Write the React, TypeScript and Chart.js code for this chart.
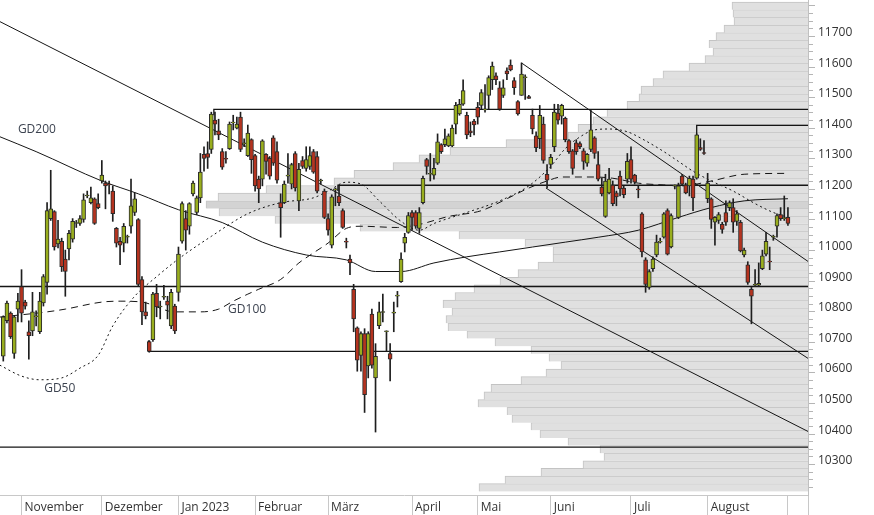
import React, { useEffect, useRef } from 'react';
import { Chart, registerables } from 'chart.js';

Chart.register(...registerables);

// ---------- Candles (one trading day per index) ----------
const opens = [
  10642, 10758, 10783, 10651, 10796, 10870, 10819, 10722, 10725, 10771,
  10722, 10816, 10883, 11092, 11115, 11009, 11018, 10960, 10993, 11025,
  11076, 11076, 11089, 11166, 11144, 11157, 11141, 11215, 11208, 11205,
  11182, 11060, 11018, 11012, 11031, 11067, 11112, 11089, 10893, 10787,
  10690, 10696, 10848, 10803, 10835, 10822, 10741, 10806, 10851, 11018,
  11092, 11067, 11173, 11112, 11160, 11302, 11305, 11318, 11414, 11379,
  11311, 11289, 11321, 11405, 11388, 11424, 11337, 11298, 11350, 11298,
  11221, 11221, 11302, 11289, 11356, 11311, 11144, 11144, 11231, 11205,
  11305, 11150, 11282, 11256, 11263, 11311, 11295, 11215, 11182, 11092,
  11005, 11186, 11166, 11118, 11018, 10960, 10861, 10735, 10645, 10716,
  10610, 10780, 10571, 10742, 10785, 10722, 10651, 10783, 10838, 10886,
  11012, 11047, 11112, 11112, 11060, 11144, 11285, 11237, 11234, 11273,
  11334, 11334, 11330, 11330, 11401, 11434, 11466, 11430, 11379, 11411,
  11456, 11462, 11447, 11495, 11546, 11559, 11520, 11495, 11575, 11594,
  11543, 11475, 11495, 11553, 11491, 11430, 11363, 11353, 11401, 11237,
  11269, 11327, 11437, 11427, 11420, 11347, 11314, 11340, 11337, 11314,
  11273, 11318, 11356, 11269, 11195, 11099, 11176, 11202, 11176, 11231,
  11192, 11221, 11285, 11234, 11189, 11108, 10957, 10867, 10928, 10973,
  11015, 11031, 11118, 10999, 11198, 11096, 11231, 11202, 11199, 11221,
  11224, 11324, 11308, 11157, 11157, 11080, 11086, 11073, 11112, 11128,
  11128, 11083, 11080, 10973, 10941, 10861, 10874, 10874, 10928, 10976,
  10953, 11031, 11067, 11105, 11092, 11096,
];
const highs = [
  10774, 10822, 10787, 10774, 10848, 10925, 10825, 10758, 10851, 10790,
  10851, 10909, 11144, 11250, 11118, 11086, 11028, 10989, 11054, 11092,
  11086, 11102, 11173, 11182, 11195, 11160, 11173, 11282, 11215, 11215,
  11199, 11063, 11031, 11076, 11038, 11221, 11176, 11092, 10902, 10819,
  10693, 10851, 10877, 10822, 10874, 10838, 10861, 10812, 10999, 11147,
  11118, 11144, 11215, 11166, 11305, 11327, 11343, 11440, 11440, 11417,
  11321, 11311, 11408, 11430, 11424, 11440, 11353, 11398, 11353, 11302,
  11231, 11350, 11305, 11295, 11363, 11343, 11173, 11215, 11305, 11273,
  11311, 11273, 11295, 11327, 11327, 11318, 11311, 11221, 11189, 11108,
  11170, 11192, 11199, 11124, 11028, 10973, 10877, 10738, 10722, 10732,
  10722, 10796, 10683, 10819, 10845, 10725, 10683, 10819, 10854, 10980,
  11044, 11112, 11118, 11118, 11128, 11231, 11289, 11305, 11289, 11369,
  11337, 11385, 11369, 11398, 11472, 11482, 11546, 11440, 11408, 11417,
  11472, 11514, 11530, 11559, 11604, 11569, 11540, 11546, 11585, 11611,
  11553, 11478, 11601, 11562, 11495, 11450, 11376, 11462, 11424, 11269,
  11302, 11466, 11466, 11466, 11424, 11350, 11318, 11350, 11343, 11321,
  11305, 11446, 11360, 11311, 11224, 11237, 11256, 11215, 11182, 11247,
  11199, 11305, 11327, 11237, 11199, 11112, 10964, 10925, 10967, 11038,
  11028, 11112, 11124, 11108, 11202, 11208, 11237, 11208, 11231, 11231,
  11369, 11353, 11347, 11240, 11160, 11099, 11112, 11080, 11150, 11150,
  11157, 11118, 11086, 10996, 10951, 10867, 10925, 10947, 10989, 11047,
  10999, 11038, 11108, 11128, 11166, 11128,
];
const lows = [
  10626, 10751, 10700, 10635, 10754, 10754, 10796, 10632, 10709, 10741,
  10716, 10806, 10845, 11086, 10989, 10996, 10919, 10838, 10957, 11015,
  11063, 11070, 11080, 11160, 11140, 11073, 11124, 11208, 11124, 11173,
  11083, 10999, 10941, 10983, 11012, 11044, 11102, 10870, 10745, 10764,
  10655, 10690, 10771, 10764, 10828, 10764, 10732, 10716, 10822, 11012,
  10989, 11041, 11166, 11105, 11144, 11247, 11256, 11305, 11366, 11350,
  11253, 11273, 11318, 11382, 11385, 11311, 11327, 11295, 11240, 11182,
  11144, 11199, 11237, 11221, 11266, 11208, 11031, 11141, 11208, 11189,
  11182, 11118, 11256, 11247, 11253, 11240, 11176, 11205, 11092, 11038,
  10996, 11134, 11134, 11060, 10996, 10909, 10722, 10593, 10593, 10458,
  10571, 10603, 10394, 10732, 10754, 10658, 10561, 10722, 10803, 10883,
  10983, 11044, 11054, 11060, 11044, 11140, 11237, 11215, 11221, 11269,
  11305, 11327, 11327, 11327, 11369, 11430, 11462, 11353, 11360, 11366,
  11401, 11450, 11440, 11450, 11514, 11530, 11446, 11488, 11546, 11575,
  11498, 11430, 11495, 11482, 11485, 11369, 11311, 11321, 11273, 11192,
  11256, 11311, 11401, 11401, 11343, 11305, 11237, 11302, 11321, 11253,
  11263, 11311, 11289, 11215, 11166, 11096, 11173, 11134, 11134, 11166,
  11160, 11208, 11208, 11205, 11160, 10967, 10851, 10861, 10919, 10967,
  11012, 11028, 10973, 10996, 11189, 11092, 11202, 11173, 11166, 11118,
  11221, 11315, 11302, 11144, 11060, 11005, 11076, 11044, 11070, 11118,
  11047, 11070, 10983, 10967, 10877, 10748, 10870, 10870, 10925, 10970,
  10925, 11021, 11031, 11086, 11086, 11070,
];
const closes = [
  10771, 10816, 10706, 10771, 10822, 10783, 10806, 10709, 10787, 10774,
  10822, 10902, 11118, 11124, 10999, 11025, 10935, 10919, 11044, 11083,
  11079, 11092, 11153, 11169, 11160, 11076, 11128, 11234, 11199, 11202,
  11108, 11012, 11005, 11067, 11034, 11134, 11157, 10877, 10787, 10774,
  10658, 10845, 10803, 10806, 10838, 10809, 10851, 10725, 10976, 11141,
  11054, 11141, 11208, 11160, 11244, 11289, 11292, 11434, 11401, 11366,
  11260, 11286, 11401, 11408, 11401, 11318, 11340, 11372, 11285, 11199,
  11189, 11346, 11279, 11231, 11273, 11218, 11128, 11205, 11234, 11269,
  11192, 11253, 11263, 11285, 11298, 11244, 11182, 11218, 11096, 11054,
  11163, 11189, 11144, 11063, 11015, 10947, 10764, 10629, 10716, 10516,
  10716, 10613, 10642, 10787, 10788, 10725, 10632, 10786, 10842, 10960,
  11031, 11102, 11096, 11067, 11112, 11224, 11263, 11240, 11256, 11343,
  11311, 11353, 11363, 11388, 11462, 11466, 11511, 11366, 11372, 11398,
  11424, 11504, 11450, 11553, 11591, 11546, 11450, 11520, 11565, 11578,
  11520, 11434, 11565, 11556, 11485, 11385, 11324, 11430, 11282, 11218,
  11292, 11440, 11414, 11462, 11350, 11311, 11256, 11311, 11327, 11279,
  11302, 11382, 11305, 11221, 11173, 11215, 11221, 11141, 11163, 11189,
  11170, 11279, 11221, 11211, 11186, 10983, 10877, 10919, 10960, 11015,
  11018, 11108, 10976, 11102, 11201, 11199, 11205, 11176, 11224, 11160,
  11366, 11318, 11305, 11208, 11089, 11096, 11105, 11057, 11080, 11144,
  11080, 11108, 10986, 10989, 10883, 10838, 10877, 10880, 10970, 11018,
  10951, 11034, 11102, 11092, 11095, 11076,
];

// ---------- X axis: first trading day of each month ----------
const monthStartIndex = [5, 27, 48, 69, 89, 112, 130, 150, 172, 193, 215];
const monthLabels = ['November', 'Dezember', 'Jan 2023', 'Februar', 'März', 'April', 'Mai', 'Juni', 'Juli', 'August', ''];
const X_MIN = -0.9;
const X_MAX = 220.5;

// ---------- Y axis ----------
const Y_MIN = 10201;
const Y_MAX = 11794;
const priceTickStep = 25;
const priceTickFirst = 10225;
const priceTickLast = 11775;

// ---------- Volume profile (25-point bins, relative volume) ----------
const profilePrice = [
  10212.5, 10237.5, 10262.5, 10287.5, 10312.5, 10337.5, 10362.5, 10387.5,
  10412.5, 10437.5, 10462.5, 10487.5, 10512.5, 10537.5, 10562.5, 10587.5,
  10612.5, 10637.5, 10662.5, 10687.5, 10712.5, 10737.5, 10762.5, 10787.5,
  10812.5, 10837.5, 10862.5, 10887.5, 10912.5, 10937.5, 10962.5, 10987.5,
  11012.5, 11037.5, 11062.5, 11087.5, 11112.5, 11137.5, 11162.5, 11187.5,
  11212.5, 11237.5, 11262.5, 11287.5, 11312.5, 11337.5, 11362.5, 11387.5,
  11412.5, 11437.5, 11462.5, 11487.5, 11512.5, 11537.5, 11562.5, 11587.5,
  11612.5, 11637.5, 11662.5, 11687.5, 11712.5, 11737.5, 11762.5, 11787.5,
];
const profileVolume = [
  329, 303, 267, 225, 204, 208, 240, 268,
  277, 296, 301, 330, 324, 317, 287, 262,
  247, 259, 277, 313, 341, 360, 362, 356,
  365, 353, 334, 308, 290, 270, 255, 255,
  283, 349, 448, 533, 589, 602, 590, 542,
  474, 454, 415, 389, 358, 302, 240, 230,
  215, 201, 181, 169, 167, 155, 145, 119,
  103, 95, 99, 92, 84, 74, 75, 76,
];
const PROFILE_SCALE_MAX = 808;

// ---------- Moving averages ----------
const gd200Idx = [-1, 9, 27, 37, 48, 60, 71, 83, 94, 102, 109, 118, 127, 136, 145, 154, 163, 174, 185, 194, 203, 215];
const gd200Val = [11360, 11311, 11215, 11173, 11121, 11079, 11015, 10973, 10957, 10919, 10919, 10947, 10967, 10983, 10999, 11015, 11031, 11054, 11096, 11128, 11150, 11157];

const gd100Idx = [-1, 12, 17, 27, 32, 38, 47, 54, 59, 63, 67, 70, 76, 81, 85, 89, 94, 98, 108, 114, 122, 131, 138, 144, 149, 153, 162, 167, 174, 181, 186, 194, 203, 215];
const gd100Val = [10770, 10787, 10796, 10819, 10822, 10819, 10787, 10787, 10796, 10822, 10845, 10861, 10893, 10947, 10980, 11012, 11060, 11067, 11063, 11073, 11099, 11118, 11157, 11192, 11215, 11228, 11228, 11224, 11208, 11202, 11199, 11215, 11237, 11240];

const gd50Idx = [-1, 5, 10, 16, 21, 26, 30, 36, 42, 48, 57, 67, 76, 85, 89, 94, 98, 103, 109, 114, 118, 127, 136, 144, 150, 154, 158, 162, 166, 171, 175, 181, 185, 189, 194, 200, 206, 211, 215];
const gd50Val = [10613, 10577, 10565, 10571, 10603, 10645, 10741, 10838, 10902, 10960, 11034, 11108, 11144, 11160, 11182, 11211, 11205, 11150, 11083, 11054, 11076, 11112, 11150, 11199, 11263, 11321, 11359, 11382, 11385, 11376, 11353, 11311, 11279, 11247, 11215, 11182, 11141, 11112, 11096];

const maLabelText = ['GD200', 'GD100', 'GD50'];
const maLabelIdx = [4.0, 61.6, 11.2];
const maLabelPrice = [11382, 10793, 10536];

// ---------- Trend lines and support/resistance lines ----------
const trendAIdx = [-0.9, 220.5];
const trendAVal = [11736, 10396];
const trendBIdx = [142, 220.5];
const trendBVal = [11601, 10952];
const trendCIdx = [148.7, 220.5];
const trendCVal = [11192, 10635];

const level1Idx = [57.7, 57.7, 220.5];
const level1Val = [11430, 11449, 11449];
const level2Idx = [190, 190, 220.5];
const level2Val = [11366, 11397, 11397];
const level3Idx = [91.7, 91.7, 220.5];
const level3Val = [11182, 11201, 11201];
const level4Idx = [-0.9, 220.5];
const level4Val = [10870, 10870];
const level5Idx = [39.8, 39.8, 220.5];
const level5Val = [10693, 10658, 10658];
const level6Idx = [-0.9, 220.5];
const level6Val = [10345, 10345];

const FONT = '"Open Sans", "Noto Sans", sans-serif';
const GREEN = '#99ae1e';
const RED = '#b5331f';
const EDGE = '#2a2a2a';

const toXY = (xs: number[], ys: number[]) => xs.map((x, i) => ({ x, y: ys[i] }));

const maLabelPlugin = {
  id: 'maLabels',
  afterDatasetsDraw(chart: any) {
    const { ctx, scales } = chart;
    const xs = scales.x;
    const ys = scales.y;
    ctx.save();
    ctx.font = `12px ${FONT}`;
    ctx.fillStyle = '#3c4350';
    ctx.textAlign = 'left';
    ctx.textBaseline = 'middle';
    maLabelText.forEach((t, i) => {
      ctx.fillText(t, xs.getPixelForValue(maLabelIdx[i]), ys.getPixelForValue(maLabelPrice[i]));
    });
    ctx.restore();
  },
};

function lineDs(label: string, xs: number[], ys: number[], extra: any = {}) {
  return {
    type: 'line' as const,
    label,
    data: toXY(xs, ys),
    borderColor: '#151515',
    borderWidth: 1,
    pointRadius: 0,
    fill: false,
    order: 5,
    ...extra,
  };
}

export default function App() {
  const ref = useRef<HTMLCanvasElement>(null);

  useEffect(() => {
    document.body.style.margin = '0';
    const canvas = ref.current;
    if (!canvas) return;
    const idx = closes.map((_, i) => i);
    const maxVol = Math.max(...profileVolume);
    const priceTicks: number[] = [];
    for (let v = priceTickFirst; v <= priceTickLast; v += priceTickStep) priceTicks.push(v);

    const chart = new Chart(canvas, {
      type: 'bar',
      data: {
        datasets: [
          {
            type: 'bar',
            label: 'profile',
            indexAxis: 'y',
            xAxisID: 'x2',
            yAxisID: 'y',
            data: profilePrice.map((p, i) => ({ x: profileVolume[i], y: p })),
            backgroundColor: profileVolume.map((v) => (v === maxVol ? '#d3d3d3' : '#e0e0e0')),
            borderColor: '#c3c3c3',
            borderWidth: { top: 1, left: 1, right: 0, bottom: 0 },
            borderSkipped: false,
            barThickness: 7.77,
            grouped: false,
            order: 10,
          } as any,
          lineDs('A', trendAIdx, trendAVal),
          lineDs('B', trendBIdx, trendBVal),
          lineDs('C', trendCIdx, trendCVal),
          lineDs('L1', level1Idx, level1Val, { borderWidth: 1.3 }),
          lineDs('L2', level2Idx, level2Val, { borderWidth: 1.3 }),
          lineDs('L3', level3Idx, level3Val, { borderWidth: 1.3 }),
          lineDs('L4', level4Idx, level4Val, { borderWidth: 1.3 }),
          lineDs('L5', level5Idx, level5Val, { borderWidth: 1.3 }),
          lineDs('L6', level6Idx, level6Val, { borderWidth: 1.3 }),
          lineDs('GD200', gd200Idx, gd200Val, { cubicInterpolationMode: 'monotone', order: 4 }),
          lineDs('GD100', gd100Idx, gd100Val, { cubicInterpolationMode: 'monotone', borderDash: [7, 5], order: 4 }),
          lineDs('GD50', gd50Idx, gd50Val, { cubicInterpolationMode: 'monotone', borderDash: [2, 3], order: 4 }),
          {
            type: 'bar',
            label: 'wick',
            data: idx.map((i) => ({ x: i, y: [lows[i], highs[i]] })),
            backgroundColor: '#1e1e1e',
            barThickness: 1,
            grouped: false,
            order: 2,
          } as any,
          {
            type: 'bar',
            label: 'body',
            data: idx.map((i) => ({ x: i, y: [opens[i], closes[i]] })),
            backgroundColor: idx.map((i) => (closes[i] >= opens[i] ? GREEN : RED)),
            borderColor: EDGE,
            borderWidth: 1,
            borderSkipped: false,
            barThickness: 4,
            grouped: false,
            order: 1,
          } as any,
        ],
      },
      options: {
        responsive: false,
        animation: false,
        devicePixelRatio: 1,
        events: [],
        layout: { padding: 0 },
        plugins: {
          legend: { display: false },
          tooltip: { enabled: false },
        },
        scales: {
          x: {
            type: 'linear',
            position: 'bottom',
            min: X_MIN,
            max: X_MAX,
            offset: false,
            grid: {
              offset: false,
              drawOnChartArea: false,
              drawTicks: true,
              tickLength: 20,
              tickColor: '#c8c8c8',
              color: '#c8c8c8',
            },
            border: { display: true, color: '#c8c8c8' },
            afterBuildTicks: (s: any) => {
              s.ticks = [...monthStartIndex, X_MAX].map((v) => ({ value: v }));
            },
            ticks: {
              autoSkip: false,
              maxRotation: 0,
              minRotation: 0,
              align: 'start',
              labelOffset: 3,
              padding: -15,
              color: '#333333',
              font: { family: FONT, size: 12 },
              callback: (_v: any, i: number) => monthLabels[i] ?? '',
            },
            afterFit: (s: any) => {
              s.height = 20;
              s.paddingLeft = 0;
              s.paddingRight = 0;
            },
          },
          x2: {
            type: 'linear',
            axis: 'x',
            display: false,
            min: 0,
            max: PROFILE_SCALE_MAX,
            reverse: true,
            offset: false,
          },
          y: {
            type: 'linear',
            position: 'right',
            min: Y_MIN,
            max: Y_MAX,
            afterBuildTicks: (s: any) => {
              s.ticks = priceTicks.map((v) => ({ value: v }));
            },
            grid: {
              drawOnChartArea: false,
              drawTicks: true,
              tickLength: 7,
              tickColor: '#b5b5b5',
              tickBorderDash: (c: any) => (c.tick && c.tick.value % 100 !== 0 ? [4, 30] : []),
            },
            border: { display: true, color: '#c0c0c0' },
            ticks: {
              autoSkip: false,
              padding: 3,
              color: '#333333',
              font: { family: FONT, size: 12 },
              callback: (v: any) => (Number(v) % 100 === 0 ? String(v) : ''),
            },
            afterFit: (s: any) => {
              s.width = 66;
              s.paddingTop = 0;
              s.paddingBottom = 0;
            },
          },
        },
      } as any,
      plugins: [maLabelPlugin],
    });

    return () => chart.destroy();
  }, []);

  return (
    <div style={{ width: 874, height: 515, background: '#ffffff' }}>
      <canvas ref={ref} width={874} height={515} style={{ display: 'block' }} />
    </div>
  );
}
